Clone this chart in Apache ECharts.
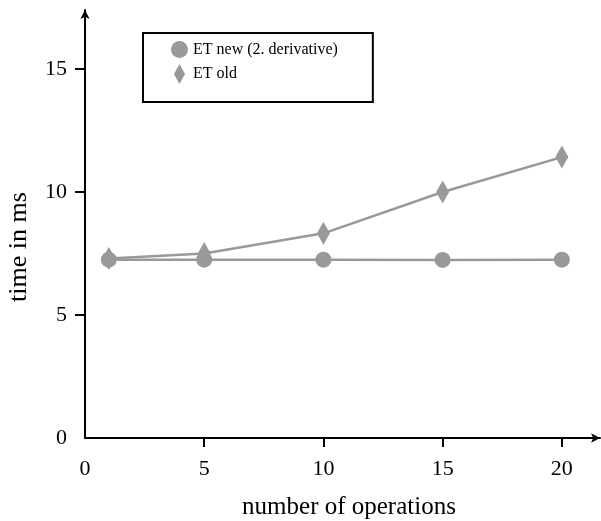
<!DOCTYPE html>
<html>
<head>
<meta charset="utf-8">
<script src="https://cdn.jsdelivr.net/npm/echarts@6/dist/echarts.min.js"></script>
<style>html,body{margin:0;padding:0;background:#fff}#c{width:601px;height:521px}</style>
</head>
<body>
<div id="c"></div>
<script>
const operations = [1, 5, 10, 15, 20];
const etNew = [7.25, 7.25, 7.25, 7.24, 7.25];
const etOld = [7.3, 7.5, 8.32, 10.0, 11.42];
const xTickLabels = [0, 5, 10, 15, 20];
const yTickLabels = [0, 5, 10, 15];
const seriesNames = ['ET new (2. derivative)', 'ET old'];

const font = 'Liberation Serif, Times New Roman, serif';
const gray = '#999999';
const chart = echarts.init(document.getElementById('c'), null, {renderer: 'canvas'});
chart.setOption({
  animation: false,
  textStyle: {fontFamily: font},
  grid: {left: 85, top: 10, width: 515, height: 428, containLabel: false, outerBoundsMode: 'none'},
  legend: {
    left: 143, top: 33, orient: 'vertical',
    padding: [8, 35, 18, 28],
    borderColor: '#000', borderWidth: 2,
    itemWidth: 17, itemHeight: 20, itemGap: 6,
    textStyle: {fontFamily: font, fontSize: 16, color: '#000'},
    data: [
      {name: seriesNames[0], icon: 'circle'},
      {name: seriesNames[1], icon: 'path://M5,0 L10,9 L5,18 L0,9 Z'}
    ]
  },
  xAxis: {
    type: 'value', min: 0, max: 21.6,
    name: 'number of operations', nameLocation: 'middle', nameGap: 57,
    nameTextStyle: {fontFamily: font, fontSize: 25, color: '#000', padding: [0, 0, 0, 13]},
    axisLine: {show: true, lineStyle: {color: '#000', width: 2}, symbol: ['none', 'arrow'], symbolSize: [7, 9]},
    axisTick: {show: true, inside: false, length: 9, lineStyle: {color: '#000', width: 2}, customValues: [5, 10, 15, 20]},
    axisLabel: {fontFamily: font, fontSize: 22, color: '#000', margin: 20, customValues: xTickLabels},
    splitLine: {show: false}
  },
  yAxis: {
    type: 'value', min: 0, max: 17.4,
    name: 'time in ms', nameLocation: 'middle', nameGap: 53, nameRotate: 90,
    nameTextStyle: {fontFamily: font, fontSize: 26, color: '#000', padding: [0, 46, 0, 0]},
    axisLine: {show: true, lineStyle: {color: '#000', width: 2}, symbol: ['none', 'arrow'], symbolSize: [7, 9]},
    axisTick: {show: true, inside: false, length: 10, lineStyle: {color: '#000', width: 2}, customValues: [5, 10, 15]},
    axisLabel: {fontFamily: font, fontSize: 22, color: '#000', margin: 18, customValues: yTickLabels},
    splitLine: {show: false}
  },
  series: [
    {
      name: seriesNames[0], type: 'line',
      data: operations.map((x, i) => [x, etNew[i]]),
      symbol: 'circle', symbolSize: 16,
      lineStyle: {color: gray, width: 2.5}, itemStyle: {color: gray}
    },
    {
      name: seriesNames[1], type: 'line',
      data: operations.map((x, i) => [x, etOld[i]]),
      symbol: 'diamond', symbolSize: [13, 23],
      lineStyle: {color: gray, width: 2.5}, itemStyle: {color: gray}
    }
  ]
});
</script>
</body>
</html>
